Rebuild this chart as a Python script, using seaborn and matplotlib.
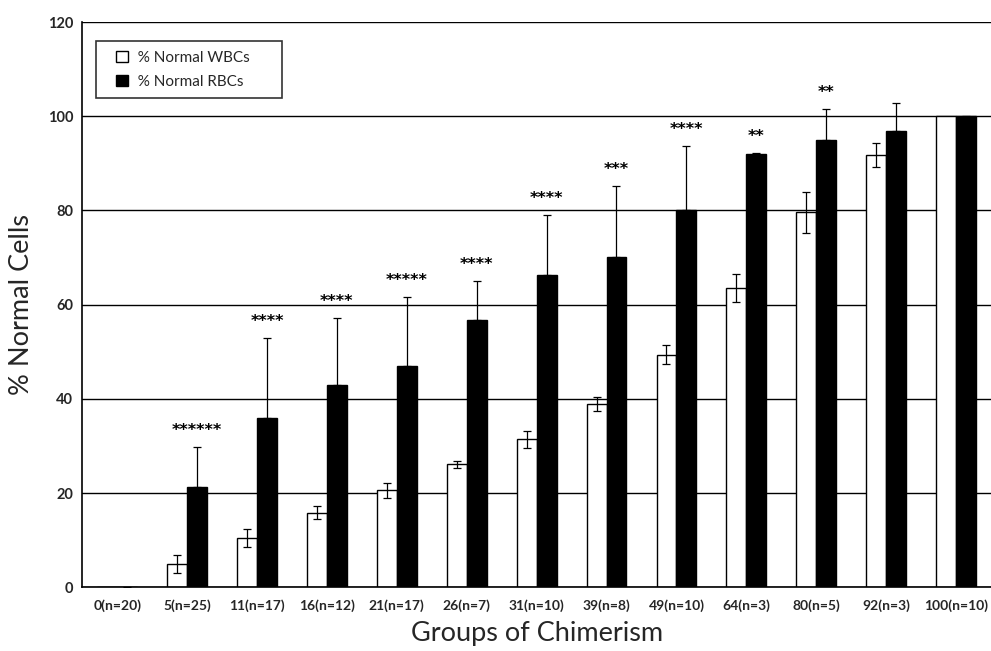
import matplotlib
matplotlib.use("Agg")
import matplotlib.pyplot as plt
import seaborn as sns
import numpy as np
import pandas as pd

groups = ["0(n=20)", "5(n=25)", "11(n=17)", "16(n=12)", "21(n=17)", "26(n=7)",
          "31(n=10)", "39(n=8)", "49(n=10)", "64(n=3)", "80(n=5)", "92(n=3)", "100(n=10)"]
series = ["% Normal WBCs", "% Normal RBCs"]
wbc = [0, 5.0, 10.4, 15.8, 20.6, 26.1, 31.4, 38.9, 49.4, 63.6, 79.6, 91.8, 100]
wbc_err = [np.nan, 1.9, 1.9, 1.4, 1.6, 0.7, 1.8, 1.4, 2.0, 3.0, 4.3, 2.5, np.nan]
rbc = [0, 21.2, 35.9, 43.0, 47.0, 56.8, 66.4, 70.1, 80.2, 92.0, 94.9, 96.9, 100]
rbc_err = [np.nan, 8.5, 17.1, 14.2, 14.6, 8.2, 12.7, 15.2, 13.5, 0.2, 6.6, 6.0, np.nan]
stars = ["", "******", "****", "****", "*****", "****", "****", "***", "****", "**", "**", "", ""]
yticks = [0, 20, 40, 60, 80, 100, 120]

df = pd.DataFrame({
    "group": groups * 2,
    "value": wbc + rbc,
    "series": [series[0]] * len(groups) + [series[1]] * len(groups),
})

sns.set_theme(style="white")
plt.rcParams["font.family"] = ["Lato", "DejaVu Sans"]

fig = plt.figure(figsize=(9.91, 6.51), dpi=100)
ax = fig.add_axes([0.083, 0.098, 0.917, 0.868])

sns.barplot(data=df, x="group", y="value", hue="series", order=groups,
            hue_order=series, palette=["white", "black"], edgecolor="black",
            linewidth=1.0, width=0.57, errorbar=None, ax=ax, zorder=2)

# error bars
xw = np.array([p.get_x() + p.get_width() / 2 for p in ax.containers[0]])
xr = np.array([p.get_x() + p.get_width() / 2 for p in ax.containers[1]])
we = np.array(wbc_err, dtype=float)
re = np.array(rbc_err, dtype=float)
ax.errorbar(xw, wbc, yerr=[we, we], fmt="none", ecolor="black", elinewidth=0.9,
            capsize=3, capthick=0.9, zorder=3)
ax.errorbar(xr, rbc, yerr=[np.zeros_like(re), re], fmt="none", ecolor="black",
            elinewidth=0.9, capsize=3, capthick=0.9, zorder=3)

# significance stars
for i, s in enumerate(stars):
    if s:
        top = rbc[i] + (0 if np.isnan(re[i]) else re[i])
        ax.text(xr[i], top + 1.9, s, ha="center", va="bottom", fontsize=11.5,
                fontweight="bold", family="DejaVu Sans", color="black")

ax.set_ylim(0, 120)
ax.set_xlim(-0.5, len(groups) - 0.5)
ax.set_yticks(yticks)
ax.set_yticklabels([str(t) for t in yticks], fontsize=10.5, fontweight="bold")
ax.yaxis.grid(True, color="black", linewidth=1.0)
ax.set_axisbelow(True)

ax.set_xticks(range(len(groups)))
ax.set_xticklabels(groups, fontsize=10, fontweight="bold")
ax.tick_params(axis="x", which="major", length=0, pad=9)
ax.set_xticks(np.arange(-0.5, len(groups), 1.0), minor=True)
ax.tick_params(axis="x", which="minor", length=4, width=1, color="black", direction="out")
ax.tick_params(axis="y", length=5, width=1, color="black", direction="out", pad=1.5)

for side in ["top", "right"]:
    ax.spines[side].set_visible(False)
for side in ["left", "bottom"]:
    ax.spines[side].set_color("black")
    ax.spines[side].set_linewidth(1.2)

ax.set_xlabel("Groups of Chimerism", fontsize=19.5, labelpad=6)
ax.set_ylabel("% Normal Cells", fontsize=19.5, labelpad=10)

handles, labels = ax.get_legend_handles_labels()
leg = ax.legend(handles, labels, loc="upper left", bbox_to_anchor=(0.015, 0.966),
                fontsize=11, frameon=True, fancybox=False, edgecolor="black",
                handlelength=0.75, handleheight=0.75, borderpad=0.6, labelspacing=0.7,
                handletextpad=0.9, borderaxespad=0)
leg.get_frame().set_linewidth(1.2)
for t in leg.get_texts():
    t.set_text("  " + t.get_text() + "      ")
for h in leg.legend_handles:
    h.set_x(h.get_x() + 8)

fig.savefig("out.png", dpi=100, facecolor="white")
